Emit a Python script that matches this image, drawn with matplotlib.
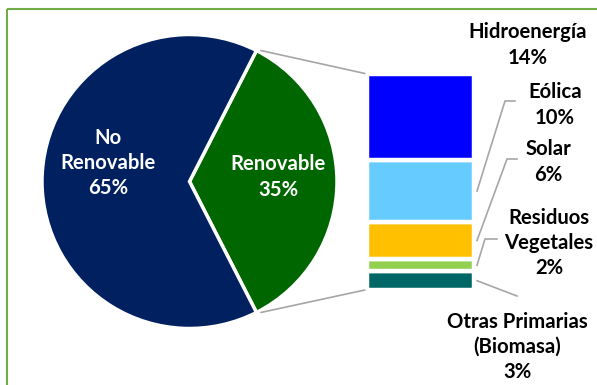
import numpy as np
import matplotlib.pyplot as plt
from matplotlib.patches import Rectangle, ConnectionPatch

# =========================
# DATA
# =========================

pie_labels = ["Renovable\n35%", "No\nRenovable\n65%"]
pie_values = [35, 65]
pie_colors = ["#006600", "#002060"]

# stacked bar, listed bottom -> top
bar_labels = [
    "Otras Primarias\n(Biomasa)\n3%",
    "Residuos\nVegetales\n2%",
    "Solar\n6%",
    "Eólica\n10%",
    "Hidroenergía\n14%",
]
bar_values = [3, 2, 6, 10, 14]
bar_colors = ["#006666", "#92D050", "#FFC000", "#66CCFF", "#0000FF"]

# =========================
# LAYOUT (pixels)
# =========================

W, H = 597, 385
FONT = "Lato"
FS = 14.6
LS = 27 / (FS * 100 / 72)
GRAY = "#A6A6A6"


def px_rect(x0, y0, x1, y1):
    return [x0 / W, 1 - y1 / H, (x1 - x0) / W, (y1 - y0) / H]


fig = plt.figure(figsize=(W / 100, H / 100), dpi=100)

# overlay in pixel coords for frame, labels and leader lines
ov = fig.add_axes([0, 0, 1, 1])
ov.set_xlim(0, W)
ov.set_ylim(H, 0)
ov.axis("off")
ov.patch.set_alpha(0)

ov.add_patch(
    Rectangle((7, 9), 800, 600, fill=False,
              edgecolor="#70AD47", linewidth=1.5)
)

# =========================
# PIE
# =========================

ax_pie = fig.add_axes(px_rect(42, 34.5, 337, 328.5))
wedges, _ = ax_pie.pie(
    pie_values,
    colors=pie_colors,
    startangle=-63,
    counterclock=True,
    wedgeprops=dict(edgecolor="white", linewidth=2.5),
)
ax_pie.set_xlim(-1, 1)
ax_pie.set_ylim(-1, 1)
ax_pie.set_aspect("auto")

ax_pie.text(0.60, 0.03, pie_labels[0], color="white", ha="center",
            va="center", fontsize=FS, fontweight="bold", family=FONT,
            linespacing=LS)
ax_pie.text(-0.55, 0.125, pie_labels[1], color="white", ha="center",
            va="center", fontsize=FS, fontweight="bold", family=FONT,
            linespacing=LS)

# =========================
# BAR
# =========================

ax_bar = fig.add_axes(px_rect(367, 73.5, 474, 290))
bottoms = np.concatenate([[0], np.cumsum(bar_values)[:-1]])
ax_bar.bar(
    [0] * len(bar_values),
    bar_values,
    bottom=bottoms,
    width=1,
    color=bar_colors,
    edgecolor="white",
    linewidth=3.2,
)
ax_bar.set_xlim(-0.5, 0.5)
ax_bar.set_ylim(0, sum(bar_values))
ax_bar.axis("off")

# connectors pie -> bar
ang = np.deg2rad(63)
for sy, by in [(1, sum(bar_values)), (-1, 0)]:
    con = ConnectionPatch(
        xyA=(np.cos(ang) + 0.03, sy * np.sin(ang)), coordsA=ax_pie.transData,
        xyB=(-0.52, by), coordsB=ax_bar.transData,
        color=GRAY, linewidth=1.2,
    )
    fig.add_artist(con)

# =========================
# BAR LABELS
# =========================


def bar_px(x, y):
    p = ax_bar.transData.transform((x, y))
    return p[0], H - p[1]


label_pos = [(517, 347), (549, 243), (548, 162), (555, 105), (528, 45)]
leaders = [
    [(517, 296)],
    [(485, 239), (497, 239)],
    [(507, 159), (517, 159)],
    [(505, 101), (515, 101)],
    None,
]

for i, (lab, (tx, ty)) in enumerate(zip(bar_labels, label_pos)):
    ov.text(tx, ty, lab, ha="center", va="center", fontsize=FS,
            fontweight="bold", family=FONT, linespacing=LS, color="black")
    if leaders[i] is not None:
        mid = bottoms[i] + bar_values[i] / 2
        x0, y0 = bar_px(0.5, mid)
        pts = [(x0 + 3, y0)] + leaders[i]
        xs, ys = zip(*pts)
        ov.plot(xs, ys, color=GRAY, linewidth=1.2)

plt.savefig("out.png", dpi=100)
